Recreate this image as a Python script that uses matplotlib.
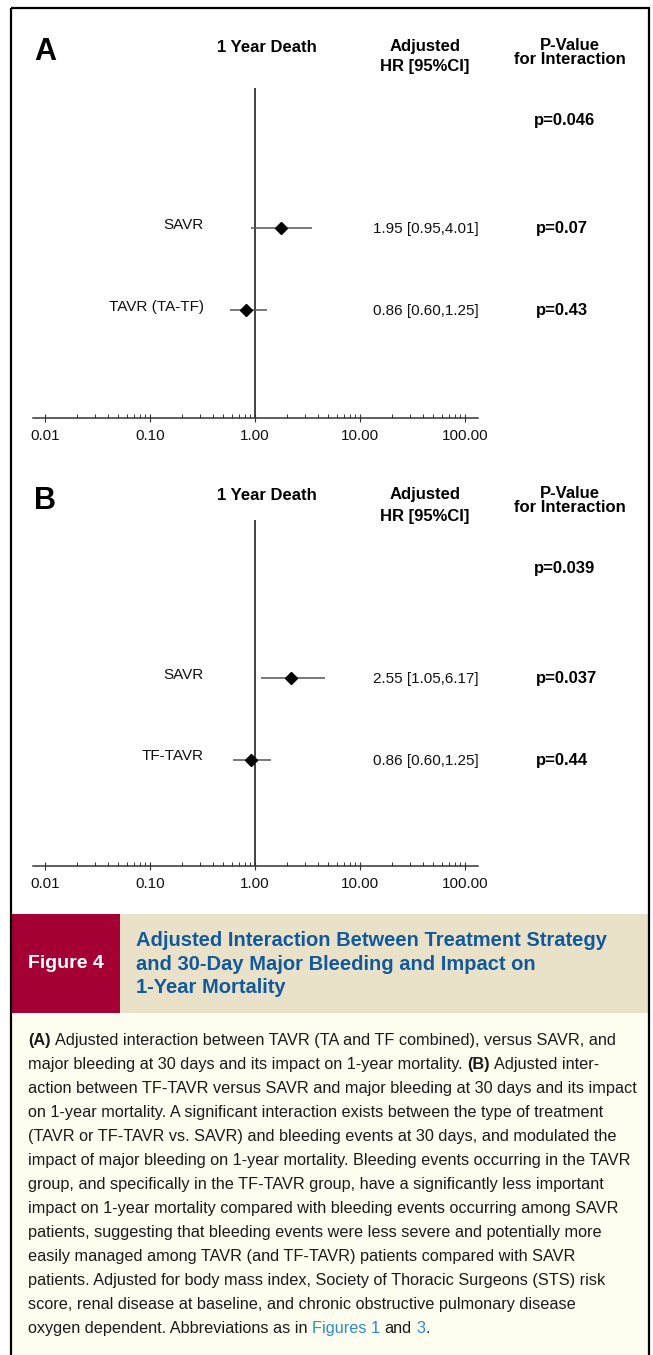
import matplotlib
matplotlib.use('Agg')
import matplotlib.pyplot as plt
import matplotlib.ticker as mticker
from matplotlib.patches import Rectangle
import numpy as np

plt.rcParams['font.family'] = ['Liberation Sans', 'DejaVu Sans']

# ---------------- data ----------------
panel_labels = ['A', 'B']
outcome_title = '1 Year Death'
group_names = [['SAVR', 'TAVR (TA-TF)'], ['SAVR', 'TF-TAVR']]
# positions of the drawn marks
hr_point = [[1.77, 0.82], [2.21, 0.91]]
hr_low = [[0.92, 0.58], [1.13, 0.62]]
hr_high = [[3.46, 1.31], [4.66, 1.41]]
hr_text = [['1.95 [0.95,4.01]', '0.86 [0.60,1.25]'],
           ['2.55 [1.05,6.17]', '0.86 [0.60,1.25]']]
p_rows = [['p=0.07', 'p=0.43'], ['p=0.037', 'p=0.44']]
p_overall = ['p=0.046', 'p=0.039']
x_ticks = [0.01, 0.1, 1, 10, 100]
x_tick_labels = ['0.01', '0.10', '1.00', '10.00', '100.00']

banner_label = 'Figure 4'
banner_title = ['Adjusted Interaction Between Treatment Strategy',
                'and 30-Day Major Bleeding and Impact on',
                '1-Year Mortality']
caption_lines = [
    [('(A)', 'b'), (' Adjusted interaction between TAVR (TA and TF combined), versus SAVR, and', 'n')],
    [('major bleeding at 30 days and its impact on 1-year mortality. ', 'n'), ('(B)', 'b'), (' Adjusted inter-', 'n')],
    [('action between TF-TAVR versus SAVR and major bleeding at 30 days and its impact', 'n')],
    [('on 1-year mortality. A significant interaction exists between the type of treatment', 'n')],
    [('(TAVR or TF-TAVR vs. SAVR) and bleeding events at 30 days, and modulated the', 'n')],
    [('impact of major bleeding on 1-year mortality. Bleeding events occurring in the TAVR', 'n')],
    [('group, and specifically in the TF-TAVR group, have a significantly less important', 'n')],
    [('impact on 1-year mortality compared with bleeding events occurring among SAVR', 'n')],
    [('patients, suggesting that bleeding events were less severe and potentially more', 'n')],
    [('easily managed among TAVR (and TF-TAVR) patients compared with SAVR', 'n')],
    [('patients. Adjusted for body mass index, Society of Thoracic Surgeons (STS) risk', 'n')],
    [('score, renal disease at baseline, and chronic obstructive pulmonary disease', 'n')],
    [('oxygen dependent. Abbreviations as in ', 'n'), ('Figures 1', 'l'), (' and ', 'n'), ('3', 'l'), ('.', 'n')],
]

# ---------------- layout ----------------
W, H = 653, 1355
fig = plt.figure(figsize=(W / 100, H / 100), dpi=100)
ov = fig.add_axes([0, 0, 1, 1])
ov.set_xlim(0, W)
ov.set_ylim(H, 0)
ov.axis('off')

RED = '#a50034'
BEIGE = '#e9e2c9'
CREAM = '#fffdf0'
TITLE_BLUE = '#12599b'
LINK_BLUE = '#2a8dc8'
DARK = '#333333'

# backgrounds
ov.add_patch(Rectangle((11, 1013), 638, H - 1013, facecolor=CREAM, edgecolor='none', zorder=0))
ov.add_patch(Rectangle((11, 914), 109, 99, facecolor=RED, edgecolor='none', zorder=1))
ov.add_patch(Rectangle((120, 914), 529, 99, facecolor=BEIGE, edgecolor='none', zorder=1))
ov.add_patch(Rectangle((11, 8), 638, H + 20, facecolor='none', edgecolor='black', lw=1.6, zorder=3))

# forest panels
dys = [0, 449]
row_px = [[228, 310], [678, 759.5]]
top_px = [88, 520]
bottom_px = [418, 866]
ax_left, ax_right = 33.3, 478
decade_px = 105
x001 = 45

minor_ticks = [m * 10.0 ** e for e in range(-2, 2) for m in range(2, 10)]

for i in range(2):
    dy = dys[i]
    b, t = bottom_px[i], top_px[i]
    ax = fig.add_axes([ax_left / W, 1 - b / H, (ax_right - ax_left) / W, (b - t) / H])
    ax.patch.set_alpha(0)
    ax.set_xscale('log')
    ax.set_xlim(10 ** (-2 - (x001 - ax_left) / decade_px), 10 ** (-2 + (ax_right - x001) / decade_px))
    n = len(group_names[i])
    ys = np.arange(n)[::-1]
    sp = row_px[i][1] - row_px[i][0]
    ax.set_ylim(-(b - row_px[i][-1]) / sp, (n - 1) + (row_px[i][0] - t) / sp)
    ax.axvline(1, color=DARK, lw=1.3, zorder=2)
    ax.hlines(ys, hr_low[i], hr_high[i], color='#555555', lw=1.1, zorder=3)
    ax.plot(hr_point[i], ys, 'D', ms=6.5, color='black', zorder=4, clip_on=False)
    for s in ['top', 'left', 'right']:
        ax.spines[s].set_visible(False)
    ax.spines['bottom'].set_color(DARK)
    ax.spines['bottom'].set_linewidth(1.1)
    ax.set_yticks([])
    ax.xaxis.set_major_locator(mticker.FixedLocator(x_ticks))
    ax.xaxis.set_major_formatter(mticker.FixedFormatter(x_tick_labels))
    ax.xaxis.set_minor_locator(mticker.FixedLocator(minor_ticks))
    ax.xaxis.set_minor_formatter(mticker.NullFormatter())
    ax.tick_params(axis='x', which='major', direction='inout', length=6, width=0.8,
                   color=DARK, labelsize=11, pad=5, labelcolor='#111111')
    ax.tick_params(axis='x', which='minor', direction='in', length=3, width=0.7, color=DARK)

    # header texts
    ov.text(34, 52 + dy, panel_labels[i], fontsize=22, fontweight='bold', ha='left', va='center')
    ov.text(267, 47 + dy, outcome_title, fontsize=12, fontweight='bold', ha='center', va='center')
    ov.text(425, 46 + dy, 'Adjusted', fontsize=12, fontweight='bold', ha='center', va='center')
    ov.text(425, 67 + dy, 'HR [95%CI]', fontsize=12, fontweight='bold', ha='center', va='center')
    ov.text(570, 45 + dy, 'P-Value', fontsize=12, fontweight='bold', ha='center', va='center')
    ov.text(570, 59 + dy, 'for Interaction', fontsize=12, fontweight='bold', ha='center', va='center')
    ov.text(534, 120 + dy, p_overall[i], fontsize=12, fontweight='bold', ha='left', va='center')

    for r in range(n):
        yp = row_px[i][r]
        ov.text(204, yp - 3, group_names[i][r], fontsize=11, ha='right', va='center', color='#111111')
        ov.text(426, yp + 1, hr_text[i][r], fontsize=11, ha='center', va='center', color='#111111')
        ov.text(536, yp + 1, p_rows[i][r], fontsize=12, fontweight='bold', ha='left', va='center')

renderer = fig.canvas.get_renderer()


def text_width(s, **kw):
    t = ov.text(0, 0, s, **kw)
    w = t.get_window_extent(renderer).width
    t.remove()
    return w


# banner
ov.text(66, 964, banner_label, fontsize=14, fontweight='bold', color='white', ha='center', va='center', zorder=5)
w10 = text_width(banner_title[0], fontsize=10, fontweight='bold')
tsize = 10 * 471 / w10
for k, line in enumerate(banner_title):
    ov.text(136, 946 + k * 23.5, line, fontsize=tsize, fontweight='bold', color=TITLE_BLUE,
            ha='left', va='baseline', zorder=5)

# caption
max_w = 0
for line in caption_lines:
    s = ''.join(seg for seg, _ in line)
    max_w = max(max_w, text_width(s, fontsize=10))
csize = 10 * 610 / max_w
space_w = text_width('x x', fontsize=csize) - text_width('xx', fontsize=csize)

for k, line in enumerate(caption_lines):
    x = 28
    y = 1045 + k * 24
    for seg, style in line:
        kw = dict(fontsize=csize)
        if style == 'b':
            kw['fontweight'] = 'bold'
        color = LINK_BLUE if style == 'l' else '#1a1a1a'
        core = seg.strip(' ')
        lead = len(seg) - len(seg.lstrip(' '))
        trail = len(seg) - len(seg.rstrip(' '))
        x += lead * space_w
        t = ov.text(x, y, core, color=color, ha='left', va='baseline', zorder=5, **kw)
        x += t.get_window_extent(renderer).width + trail * space_w

fig.savefig('out.png', dpi=100)
